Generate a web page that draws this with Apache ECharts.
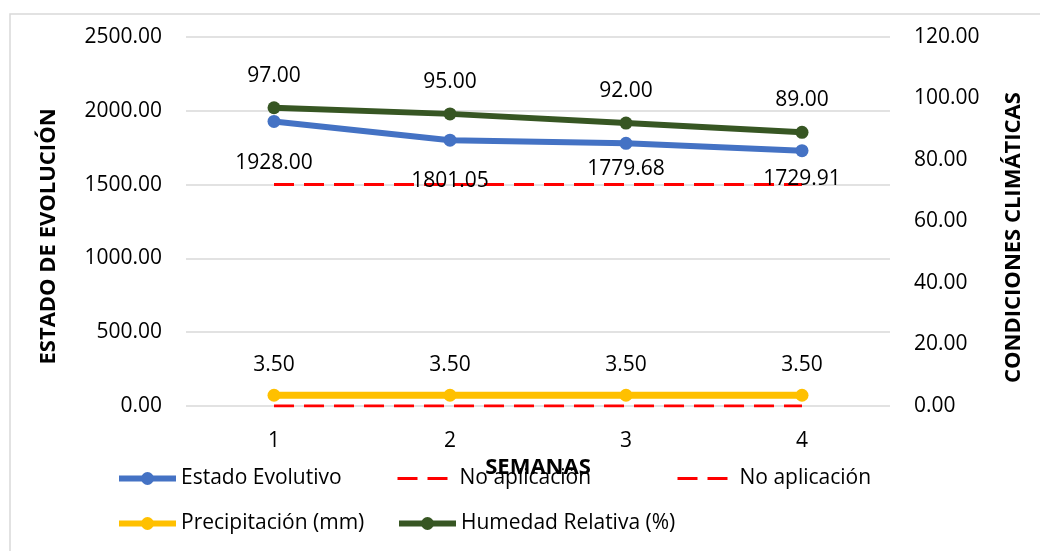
<!DOCTYPE html>
<html>
<head>
<meta charset="utf-8">
<script src="https://cdn.jsdelivr.net/npm/echarts@6/dist/echarts.min.js"></script>
<style>
  html, body { margin: 0; padding: 0; background: #fff; }
  #chart { width: 1040px; height: 551px; }
</style>
</head>
<body>
<div id="chart"></div>
<script>
const semanas = ['1', '2', '3', '4'];
const estadoEvolutivo = [1928.00, 1801.05, 1779.68, 1729.91];
const noAplicacionAlta = [1500, 1500, 1500, 1500];
const noAplicacionBaja = [0, 0, 0, 0];
const precipitacion = [3.50, 3.50, 3.50, 3.50];
const humedadRelativa = [97.00, 95.00, 92.00, 89.00];

// the blue labels sit at uneven distances under their points in the original
const estadoLabelGap = [25, 24, 9, 11];

const font = 'Open Sans';
const chart = echarts.init(document.getElementById('chart'), null, { renderer: 'canvas' });

const fmt = (p) => p.value.toFixed(2);
const dashed = { color: '#FF0000', width: 3, type: [20, 10] };

const legendItem = (name, thick) => thick
  ? { name, lineStyle: { width: 6 } }
  : { name, itemStyle: { opacity: 0 }, lineStyle: { width: 3, type: [20, 10] } };

chart.setOption({
  backgroundColor: '#fff',
  animation: false,
  textStyle: { fontFamily: font },
  graphic: [{
    type: 'rect',
    shape: { x: 10, y: 14, width: 1060, height: 600 },
    style: { fill: 'none', stroke: '#D9D9D9', lineWidth: 1.5 },
    silent: true
  }],
  grid: { left: 186, right: 150, top: 37, bottom: 145 },
  legend: [
    { data: [legendItem('Estado Evolutivo', true)], left: 116, top: 468 },
    { data: [legendItem('No aplicación', false)], left: 396, top: 468 },
    { data: [legendItem('No aplicación', false)], left: 676, top: 468 },
    { data: [legendItem('Precipitación (mm)', true)], left: 116, top: 513 },
    { data: [legendItem('Humedad Relativa (%)', true)], left: 396, top: 513 }
  ].map(l => Object.assign({
    padding: 0, itemWidth: 57, itemHeight: 16, selectedMode: false,
    textStyle: { fontFamily: font, fontSize: 21, color: '#000' }
  }, l)),
  xAxis: {
    type: 'category',
    data: semanas,
    name: 'SEMANAS',
    nameLocation: 'middle',
    nameGap: 46,
    nameTextStyle: { fontFamily: font, fontSize: 22, fontWeight: 'bold', color: '#000' },
    axisLine: { show: false },
    axisTick: { show: false },
    axisLabel: { margin: 25, fontFamily: font, fontSize: 21, color: '#000' }
  },
  yAxis: [{
    type: 'value',
    min: 0, max: 2500, interval: 500,
    name: 'ESTADO DE EVOLUCIÓN',
    nameLocation: 'middle',
    nameGap: 126,
    nameRotate: 90,
    nameTextStyle: { fontFamily: font, fontSize: 22, fontWeight: 'bold', color: '#000', padding: [0, 30, 0, 0] },
    axisLabel: { margin: 24, fontFamily: font, fontSize: 21, color: '#000', formatter: v => v.toFixed(2) },
    splitLine: { lineStyle: { color: '#D9D9D9', width: 1.5 } }
  }, {
    type: 'value',
    min: 0, max: 120, interval: 20,
    name: 'CONDICIONES CLIMÁTICAS',
    nameLocation: 'middle',
    nameGap: 113,
    nameRotate: 90,
    nameTextStyle: { fontFamily: font, fontSize: 22, fontWeight: 'bold', color: '#000', padding: [0, 32, 0, 0] },
    axisLabel: { margin: 24, fontFamily: font, fontSize: 21, color: '#000', formatter: v => v.toFixed(2) },
    splitLine: { show: false }
  }],
  series: [{
    name: 'No aplicación',
    type: 'line',
    yAxisIndex: 0,
    data: noAplicacionAlta,
    symbol: 'none',
    lineStyle: dashed,
    itemStyle: { color: '#FF0000' }
  }, {
    name: 'No aplicación',
    type: 'line',
    yAxisIndex: 0,
    data: noAplicacionBaja,
    symbol: 'none',
    lineStyle: dashed,
    itemStyle: { color: '#FF0000' }
  }, {
    name: 'Estado Evolutivo',
    type: 'line',
    yAxisIndex: 0,
    data: estadoEvolutivo.map((v, i) => ({
      value: v,
      label: { distance: estadoLabelGap[i] }
    })),
    symbol: 'circle',
    symbolSize: 13,
    lineStyle: { color: '#4472C4', width: 6 },
    itemStyle: { color: '#4472C4' },
    label: { show: true, position: 'bottom', formatter: fmt, fontFamily: font, fontSize: 21, color: '#000' }
  }, {
    name: 'Precipitación (mm)',
    type: 'line',
    yAxisIndex: 1,
    data: precipitacion,
    symbol: 'circle',
    symbolSize: 13,
    lineStyle: { color: '#FFC000', width: 7 },
    itemStyle: { color: '#FFC000' },
    label: { show: true, position: 'top', distance: 13, formatter: fmt, fontFamily: font, fontSize: 21, color: '#000' }
  }, {
    name: 'Humedad Relativa (%)',
    type: 'line',
    yAxisIndex: 1,
    data: humedadRelativa,
    symbol: 'circle',
    symbolSize: 13,
    lineStyle: { color: '#375623', width: 6 },
    itemStyle: { color: '#375623' },
    label: { show: true, position: 'top', distance: 15, formatter: fmt, fontFamily: font, fontSize: 21, color: '#000' }
  }]
});
</script>
</body>
</html>
